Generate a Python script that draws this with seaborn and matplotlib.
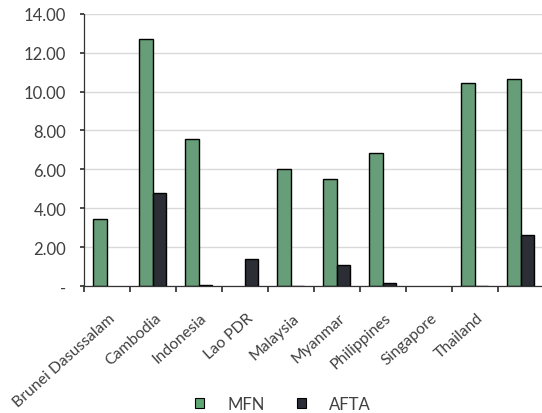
import matplotlib
matplotlib.use("Agg")
import matplotlib.pyplot as plt
import matplotlib.transforms as mtransforms
from matplotlib.patches import Patch
import seaborn as sns
import pandas as pd

countries = ["Brunei Dasussalam", "Cambodia", "Indonesia", "Lao PDR", "Malaysia",
             "Myanmar", "Philippines", "Singapore", "Thailand", "Viet Nam"]
tick_labels = ["Brunei Dasussalam", "Cambodia", "Indonesia", "Lao PDR", "Malaysia",
               "Myanmar", "Philippines", "Singapore", "Thailand", ""]
mfn = [3.45, 12.68, 7.56, 0.0, 6.02, 5.50, 6.82, 0.0, 10.44, 10.63]
afta = [0.0, 4.80, 0.05, 1.37, 0.02, 1.08, 0.17, 0.0, 0.02, 2.61]
series = ["MFN", "AFTA"]
colors = ["#5ea674", "#2a2d38"]

df = pd.DataFrame({
    "country": countries * 2,
    "value": mfn + afta,
    "series": [series[0]] * len(countries) + [series[1]] * len(countries),
})

sns.set_theme(style="white")
plt.rcParams["font.family"] = ["Lato", "DejaVu Sans"]

fig = plt.figure(figsize=(5.42, 4.14), dpi=100)
ax = fig.add_axes([83.5 / 542, 1 - 287 / 414, 1 - 83.5 / 542, (287 - 14.7) / 414])

sns.barplot(data=df, x="country", y="value", hue="series", palette=colors,
            width=0.58, edgecolor="black", linewidth=1.0, ax=ax, legend=False,
            order=countries, hue_order=series)

# hide bars that have no value at all
for p in ax.patches:
    if p.get_height() == 0:
        p.set_visible(False)

ax.set_ylim(0, 14)
ax.set_xlim(-0.5, 9.5 - 1.7 / 46)
yt = [0, 2, 4, 6, 8, 10, 12, 14]
ax.set_yticks(yt)
ax.set_yticklabels(["-" if v == 0 else f"{v:.2f}" for v in yt], color="#404040", fontsize=12)
ax.yaxis.grid(True, color="#d9d9d9", linewidth=1.0)
ax.set_axisbelow(True)

for s in ["top", "right"]:
    ax.spines[s].set_visible(False)
for s in ["left", "bottom"]:
    ax.spines[s].set_color("#333333")
    ax.spines[s].set_linewidth(0.9)

# category boundary ticks
ax.set_xticks([i - 0.5 for i in range(len(countries))])
ax.set_xticklabels([])
ax.tick_params(axis="x", which="major", length=4, color="#333333", direction="out", bottom=True)
ax.tick_params(axis="y", which="major", length=3, color="#333333", direction="out", left=True, pad=9.5)
ax.set_xticks(range(len(countries)), minor=True)
ax.set_xticklabels(tick_labels, minor=True, rotation=42, ha="right", va="baseline",
                   rotation_mode="anchor", fontsize=11.3, color="#404040")
ax.tick_params(axis="x", which="minor", length=0, pad=23.5)
offset = mtransforms.ScaledTranslation(9 / 100, 0, fig.dpi_scale_trans)
for lab in ax.get_xticklabels(minor=True):
    lab.set_transform(lab.get_transform() + offset)

ax.set_xlabel("")
ax.set_ylabel("")

handles = [Patch(facecolor=c, edgecolor="black", linewidth=0.8) for c in colors]
fig.legend(handles, series, loc="center", bbox_to_anchor=(283 / 542, 1 - 405 / 414),
           ncol=2, frameon=False, fontsize=12, handlelength=0.55, handleheight=0.55,
           columnspacing=1.9, handletextpad=1.4, labelcolor="#404040")

fig.savefig("out.png", dpi=100)
